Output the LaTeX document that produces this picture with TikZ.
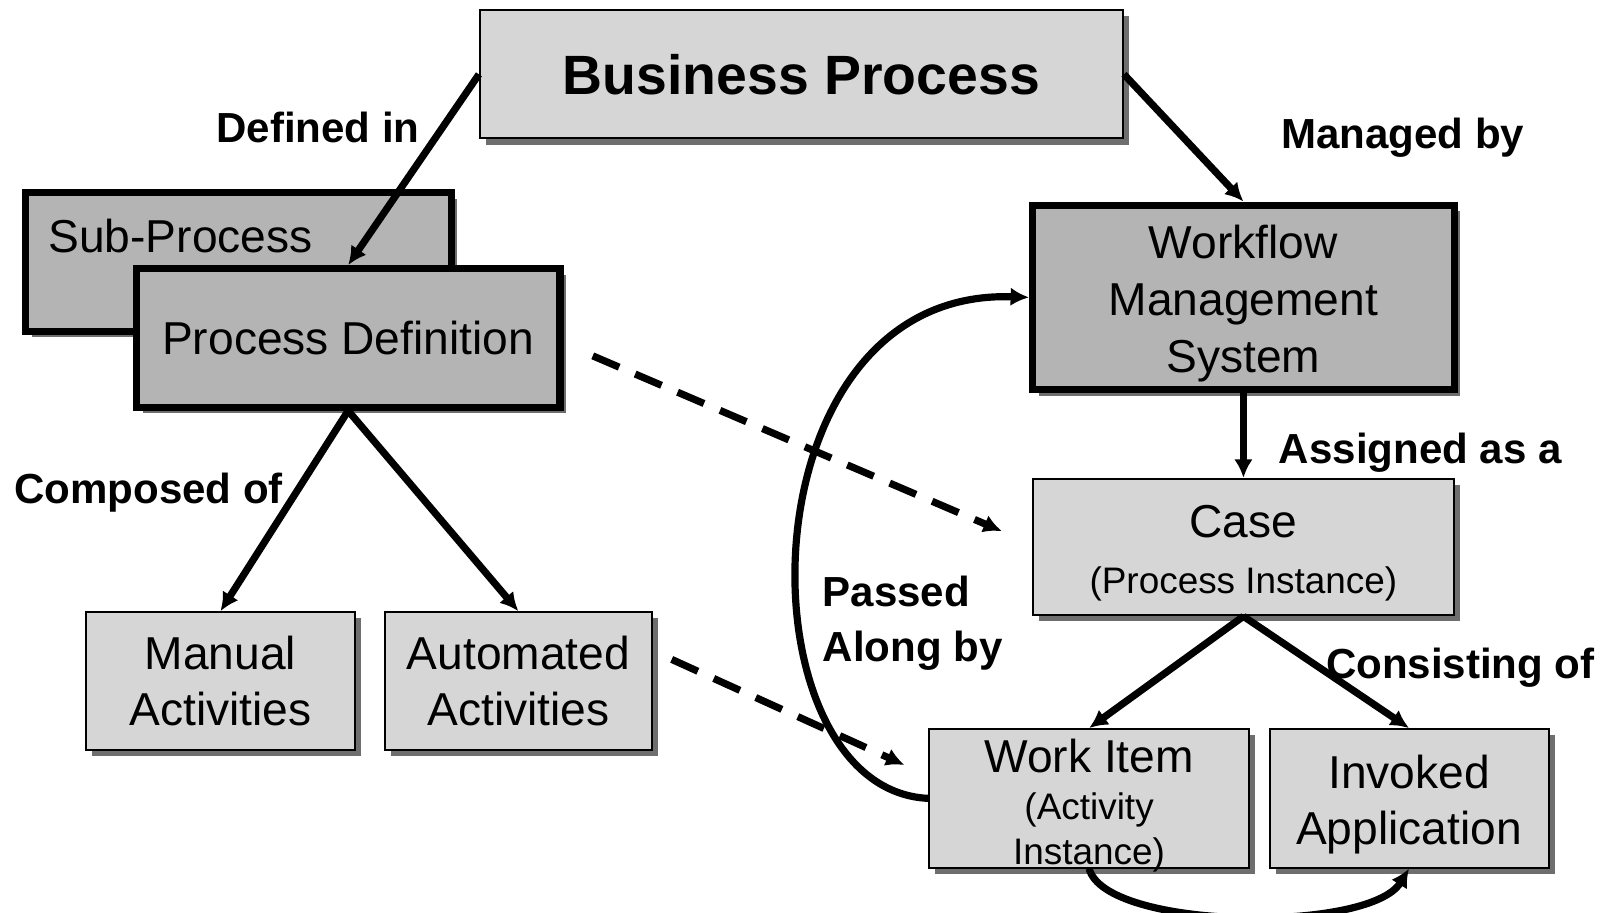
\documentclass[tikz,border=0pt]{standalone}
\usepackage{fontspec}
\setmainfont{Liberation Sans}
\usetikzlibrary{arrows.meta,shadows}
\definecolor{lightbox}{HTML}{D6D6D6}
\definecolor{midbox}{HTML}{B4B4B4}
\definecolor{shadowgray}{HTML}{6E6E6E}
\tikzset{
  boxshadow/.style={drop shadow={shadow xshift=6pt, shadow yshift=-6pt, fill=shadowgray, opacity=1}},
  lightnode/.style={draw=black, line width=2pt, fill=lightbox, inner sep=0pt, align=center, boxshadow,
    font=\fontsize{45}{54}\selectfont},
  darknode/.style={draw=black, line width=7pt, fill=midbox, inner sep=0pt, align=center, boxshadow,
    font=\fontsize{45}{56}\selectfont},
  boxtext/.style={inner sep=0pt, align=center, font=\fontsize{45}{54}\selectfont},
  reltext/.style={inner sep=0pt, font=\bfseries\fontsize{41}{54}\selectfont},
  rel/.style={line width=7pt, -{Latex[length=18pt,width=18pt]}},
  dashrel/.style={line width=7pt, dash pattern=on 28pt off 17pt, -{Latex[length=18pt,width=18pt]}},
}
\begin{document}
\begin{tikzpicture}[x=1pt,y=-1pt]
\useasboundingbox (0,0) rectangle (1568,890);
\fill[white] (0,0) rectangle (1568,890);

% boxes
\node[lightnode, minimum width=627pt, minimum height=125pt, font=\bfseries\fontsize{54}{60}\selectfont] (bp) at (781.5,72.5) {Business Process};
\node[darknode, minimum width=415pt, minimum height=135pt] (sp) at (232.5,255.5) {};
\node[anchor=west, inner sep=0pt, font=\fontsize{45}{54}\selectfont] (sptext) at (47,230) {Sub-Process};
\node[darknode, minimum width=413pt, minimum height=135pt] (pd) at (339.5,329.5) {Process Definition};
\node[lightnode, minimum width=262pt, minimum height=134pt] (man) at (215,664) {Manual\\Activities};
\node[lightnode, minimum width=261pt, minimum height=134pt] (aut) at (505.5,664) {Automated\\Activities};
\node[darknode, minimum width=411pt, minimum height=180pt,
  label={[boxtext, font=\fontsize{45}{56}\selectfont, yshift=-6pt]center:{Workflow\\Management\\System}}] (wms) at (1212.5,290) {};
\node[lightnode, minimum width=411pt, minimum height=133pt,
  label={[boxtext, yshift=-6pt]center:{Case\\[0pt]{\fontsize{36}{43}\selectfont (Process Instance)}}}] (case) at (1212.5,533.5) {};
\node[lightnode, minimum width=312pt, minimum height=135pt,
  label={[boxtext, yshift=-7pt]center:{Work Item\\[-8pt]{\fontsize{36}{43}\selectfont (Activity}\\[-11pt]{\fontsize{36}{43}\selectfont Instance)}}}] (wi) at (1062,778.5) {};
\node[lightnode, minimum width=272pt, minimum height=135pt,
  label={[boxtext, yshift=-6pt]center:{Invoked\\Application}}] (inv) at (1374,778.5) {};

% relation labels
\node[reltext] (defl) at (310,124) {Defined in};
\node[reltext] (manl) at (1368,134) {Managed by};
\node[reltext] (asgl) at (1385,441) {Assigned as a};
\node[reltext] (coml) at (145,480) {Composed of};
\node[reltext, anchor=west, align=left] (pasl) at (802,608) {Passed\\Along by};
\node[reltext] (conl) at (1424,651) {Consisting of};

% solid connectors
\draw[rel] (bp.west) -- (pd.north);
\draw[rel] (bp.east) -- (wms.north);
\draw[rel] (pd.south) -- (man.north);
\draw[rel] (pd.south) -- (aut.north);
\draw[rel] (wms.south) -- (case.north);
\draw[rel] (case.south) -- (wi.north);
\draw[rel] (case.south) -- (inv.north);

% curved connectors
\draw[rel] (wi.west) .. controls (720,770) and (720,280) .. (wms.west);
\draw[rel] (wi.south) .. controls (1078,907) and (1335,910) .. (inv.south);

% dashed connectors
\coordinate (d1s) at (578,347);
\coordinate (d1e) at (977,518);
\coordinate (d2s) at (655,643);
\coordinate (d2e) at (882,746);
\draw[dashrel] (d1s) -- (d1e);
\draw[dashrel] (d2s) -- (d2e);
\end{tikzpicture}
\end{document}
